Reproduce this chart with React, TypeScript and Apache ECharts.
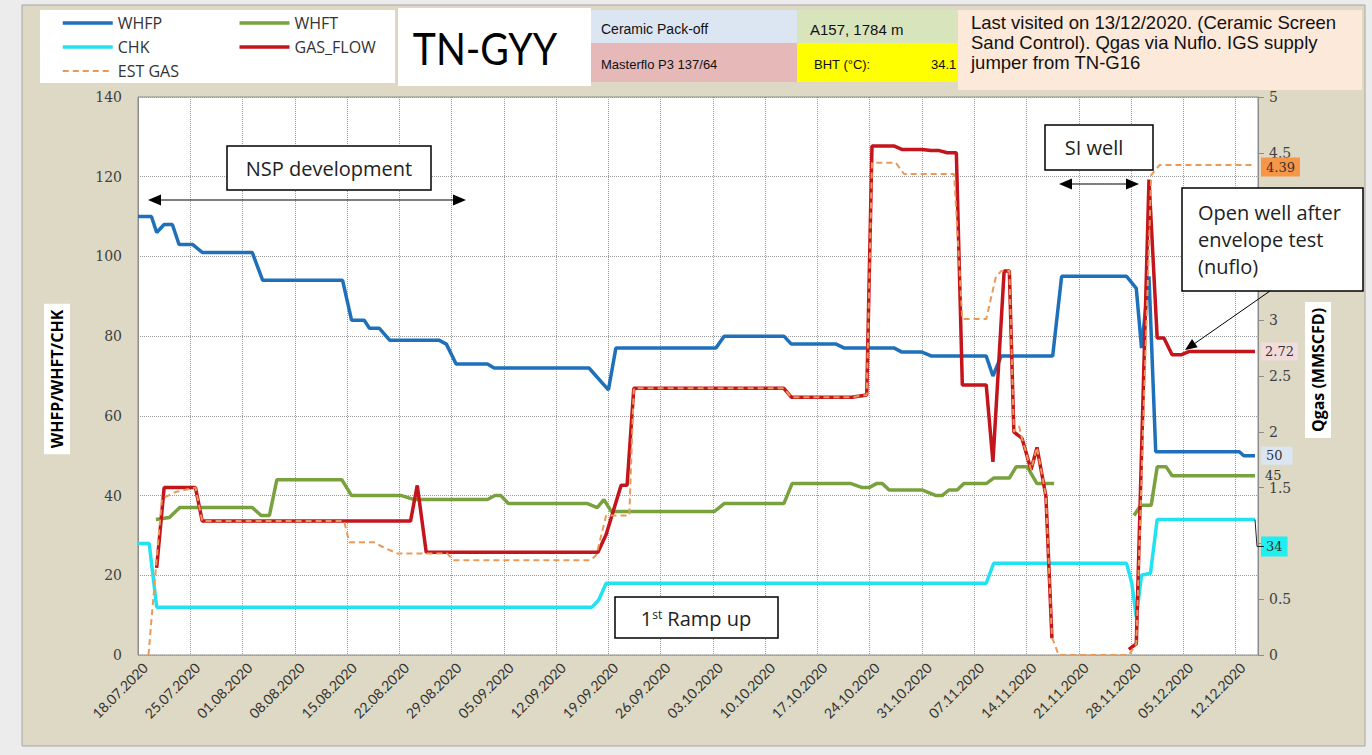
import React, { useEffect, useRef } from 'react';
import * as echarts from 'echarts';

// x values: day offset from 18.07.2020
const START_DATE = Date.UTC(2020, 6, 18);
const X_MAX = 150;
const X_TICK_DAYS = 7;

const leftTicks = { min: 0, max: 140, interval: 20 };
const rightTicks = { min: 0, max: 5, interval: 0.5 };

const seriesNames = ['WHFP', 'WHFT', 'CHK', 'GAS_FLOW', 'EST GAS'];

const whfp: any[] = [[0,110],[1.8,110],[2.5,106],[3.5,108],[4.6,108],[5.5,103],[7.3,103],[8.6,101],[15.3,101],[16.7,94],[27.4,94],[28.6,84],[30.3,84],[31,82],[32.3,82],[33.7,79],[40.3,79],[41.3,78],[42.6,73],[46.8,73],[47.7,72],[60.4,72],[63,66.5],[64,77],[77.4,77],[78.5,80],[86.5,80],[87.5,78],[93.5,78],[94.6,77],[101.3,77],[102.3,76],[105,76],[106.3,75],[113.6,75],[114.5,70],[115.6,75],[122.5,75],[123.7,95],[132.4,95],[133.7,92],[134.4,77],[135.4,95],[136.3,51],[147.5,51],[148.1,50],[149.6,50]];

const whft: any[] = [[2.4,34],[4.2,34.5],[5.6,37],[15.3,37],[16.5,35],[17.6,35],[18.6,44],[27.3,44],[28.6,40],[35.3,40],[37,39],[46.8,39],[47.8,40],[48.6,40],[49.6,38],[60.2,38],[61.5,37],[62.4,39],[63.4,36],[77.2,36],[78.5,38],[86.5,38],[87.6,43],[95.5,43],[97,42],[97.9,42],[98.9,43],[99.7,43],[100.6,41.4],[105,41.4],[106.9,40],[107.7,40],[108.6,41.4],[109.7,41.4],[110.6,43],[113.6,43],[114.6,44.4],[116.7,44.4],[117.6,47.2],[119.1,47.2],[120.4,43],[122.7,43],[128,'-'],[133.4,35],[134.3,37.6],[135.7,37.6],[136.5,47.2],[137.7,47.2],[138.5,45],[149.6,45]];

const chk: any[] = [[0,28],[1.5,28],[2.5,12],[60.8,12],[61.7,13.8],[62.7,18],[113.6,18],[114.6,23],[132.4,23],[133.1,18],[133.7,9.5],[134.4,20],[135.6,20.5],[136.5,34],[149.6,34]];

const gasFlow: any[] = [[2.5,0.78],[3.5,1.5],[7.7,1.5],[8.6,1.2],[36.5,1.2],[37.4,1.52],[38.6,0.92],[61.6,0.92],[62.7,1.08],[64.7,1.52],[65.5,1.52],[66.4,2.39],[86.5,2.39],[87.5,2.31],[95.6,2.31],[97.6,2.33],[98.3,4.56],[101.3,4.56],[102.3,4.53],[105,4.53],[106.2,4.52],[107.3,4.52],[108.4,4.5],[109.6,4.5],[110.4,2.42],[113.6,2.42],[114.5,1.73],[116,3.44],[116.7,3.44],[117.3,2.0],[118.4,1.94],[119.6,1.66],[120.4,1.86],[121.6,1.42],[122.4,0.15],[127,'-'],[132.7,0.05],[133.7,0.1],[135.4,4.26],[136.5,2.84],[137.4,2.84],[138.5,2.69],[139.7,2.69],[140.8,2.72],[149.6,2.72]];

const estGas: any[] = [[1.4,0],[3.2,1.4],[5,1.46],[7.7,1.5],[8.6,1.2],[27.6,1.2],[28.3,1.01],[31.6,1.01],[32.7,0.97],[34.7,0.91],[41.4,0.91],[42.2,0.85],[60.7,0.85],[61.4,0.9],[62.7,1.25],[65.8,1.25],[66.4,2.39],[86.5,2.39],[87.5,2.31],[95.6,2.31],[97.6,2.33],[98.3,4.41],[101.5,4.41],[102.6,4.31],[109.3,4.31],[110.4,3.01],[113.6,3.01],[114.9,3.39],[115.6,3.44],[116.7,3.44],[117.3,2.0],[118,2.05],[118.4,1.94],[119.6,1.66],[120.4,1.86],[121.6,1.42],[122.4,0.16],[123.3,0],[132.7,0],[133.7,0.1],[135.7,4.3],[136.8,4.39],[149.6,4.39]];

const SANS = "'Open Sans', 'DejaVu Sans', sans-serif";
const ARIAL = "'Liberation Sans', Arial, sans-serif";
const SERIF = "'DejaVu Serif', serif";

function fmtDate(v: number) {
  const d = new Date(START_DATE + Math.round(v) * 86400000);
  const dd = String(d.getUTCDate()).padStart(2, '0');
  const mm = String(d.getUTCMonth() + 1).padStart(2, '0');
  return `${dd}.${mm}.${d.getUTCFullYear()}`;
}

function endLabel(bg: string, offset: number[] = [0, 0], padding: number[] = [3, 4, 2, 4]) {
  return {
    show: true,
    formatter: (p: any) => String(p.value[1]),
    color: '#333',
    fontFamily: SERIF,
    fontSize: 13,
    backgroundColor: bg,
    padding,
    distance: 6,
    offset,
  };
}

function box(x: number, y: number, w: number, h: number, fill: string, stroke = 'none', lw = 0) {
  return { type: 'rect', z: 50, shape: { x, y, width: w, height: h }, style: { fill, stroke, lineWidth: lw } };
}
function txt(x: number, y: number, text: string, fontSize: number, fontFamily: string, extra: any = {}) {
  return {
    type: 'text', z: 60, x, y,
    style: { text, fontSize, fontFamily, fill: '#111', textAlign: 'left', textVerticalAlign: 'middle', ...extra },
  };
}
function arrowLine(x1: number, x2: number, y: number) {
  return [
    { type: 'line', z: 60, shape: { x1: x1 + 8, y1: y, x2: x2 - 8, y2: y }, style: { stroke: '#000', lineWidth: 1.2 } },
    { type: 'polygon', z: 60, shape: { points: [[x1, y], [x1 + 13, y - 5.5], [x1 + 13, y + 5.5]] }, style: { fill: '#000' } },
    { type: 'polygon', z: 60, shape: { points: [[x2, y], [x2 - 13, y - 5.5], [x2 - 13, y + 5.5]] }, style: { fill: '#000' } },
  ];
}

const graphics: any[] = [
  { type: 'rect', z: -10, shape: { x: 22, y: 5, width: 1343, height: 741 }, style: { fill: '#DDD9C4', stroke: '#A6A6A6', lineWidth: 1 } },
  // legend box
  { type: 'rect', z: -5, shape: { x: 40, y: 10, width: 355, height: 73 }, style: { fill: '#FFFFFF' } },
  // title
  box(397, 8, 194, 78, '#FFFFFF'),
  { type: 'line', z: 51, shape: { x1: 397.5, y1: 8, x2: 397.5, y2: 86 }, style: { stroke: '#F2C4D0', lineWidth: 1 } },
  { type: 'text', z: 60, x: 485, y: 48, scaleX: 0.89, style: { text: 'TN-GYY', fontSize: 44, fontFamily: "Lato, 'Open Sans', sans-serif", fill: '#000', textAlign: 'center', textVerticalAlign: 'middle' } },
  // info boxes
  box(591, 10, 206, 33, '#DCE5F2'),
  box(591, 43, 206, 39, '#E6B9B8'),
  box(797, 10, 161, 33, '#D8E4BC'),
  box(797, 43, 161, 39, '#FFFF00'),
  box(958, 10, 404, 80, '#FDE9D9'),
  txt(601, 29, 'Ceramic Pack-off', 14, ARIAL),
  txt(601, 64, 'Masterflo P3 137/64', 13, ARIAL),
  txt(810, 29, 'A157, 1784 m', 15, ARIAL),
  txt(814, 64, 'BHT (°C):', 13, ARIAL),
  txt(931, 64, '34.1', 13, ARIAL),
  { type: 'text', z: 60, x: 971, y: 12, style: { text: 'Last visited on 13/12/2020. (Ceramic Screen\nSand Control). Qgas via Nuflo. IGS supply\njumper from TN-G16', fontSize: 18.5, fontFamily: ARIAL, fill: '#111', lineHeight: 20, textAlign: 'left', textVerticalAlign: 'top' } },
  // axis names
  { type: 'text', z: 60, x: 57, y: 379, rotation: Math.PI / 2, style: { text: 'WHFP/WHFT/CHK', fontSize: 16, fontWeight: 'bold', fontFamily: SANS, fill: '#000', textAlign: 'center', textVerticalAlign: 'middle', backgroundColor: '#FFFFFF', padding: [5, 6, 5, 6] } },
  { type: 'text', z: 60, x: 1318, y: 370, rotation: Math.PI / 2, style: { text: 'Qgas (MMSCFD)', fontSize: 16, fontWeight: 'bold', fontFamily: SANS, fill: '#000', textAlign: 'center', textVerticalAlign: 'middle', backgroundColor: '#FFFFFF', padding: [5, 6, 5, 6] } },
  // NSP development
  box(227, 146, 204, 44, '#FFFFFF', '#000', 1.5),
  txt(329, 168, 'NSP development', 20, SANS, { textAlign: 'center', fill: '#222' }),
  ...arrowLine(148, 466, 200),
  // SI well
  box(1045, 125, 108, 45, '#FFFFFF', '#000', 1.5),
  txt(1094, 147, 'SI well', 20, SANS, { textAlign: 'center', fill: '#222' }),
  ...arrowLine(1059, 1139, 184),
  // Open well annotation
  box(1182, 188, 181, 103, '#FFFFFF', '#000', 1.5),
  { type: 'text', z: 60, x: 1198, y: 239, style: { text: 'Open well after\nenvelope test\n(nuflo)', fontSize: 20, fontFamily: SANS, fill: '#222', lineHeight: 27, textAlign: 'left', textVerticalAlign: 'middle' } },
  { type: 'line', z: 60, shape: { x1: 1270, y1: 291, x2: 1194, y2: 344 }, style: { stroke: '#000', lineWidth: 1 } },
  { type: 'polygon', z: 60, shape: { points: [[1185, 350], [1197.7, 347.3], [1192.0, 339.1]] }, style: { fill: '#000' } },
  // 1st ramp up
  box(615, 597, 163, 41, '#FFFFFF', '#000', 1.5),
  { type: 'text', z: 60, x: 696, y: 618, style: { text: '{n|1}{s|st}{n| Ramp up}', textAlign: 'center', textVerticalAlign: 'middle', rich: { n: { fontSize: 20, fontFamily: SANS, fill: '#222' }, s: { fontSize: 12, fontFamily: SANS, fill: '#222', verticalAlign: 'top' } } } },
];

const lineSeries = (name: string, data: any[], color: string, width: number, yAxisIndex: number, label: any, dashed = false) => ({
  name, type: 'line', data, yAxisIndex, symbol: 'none', showSymbol: false,
  connectNulls: false,
  lineStyle: { color, width, type: dashed ? [6, 4] : 'solid' },
  itemStyle: { color },
  endLabel: label,
  emphasis: { disabled: true },
});

const option: any = {
  animation: false,
  backgroundColor: 'transparent',
  legend: {
    data: seriesNames.map((n) => (n === 'EST GAS' ? { name: n, lineStyle: { width: 2 } } : { name: n })),
    left: 56, top: 7, width: 360,
    itemWidth: 50, itemHeight: 14, itemGap: 2,
    selectedMode: false,
    itemStyle: { opacity: 0 },
    lineStyle: { width: 3.5 },
    textStyle: { fontSize: 16, fontFamily: SANS, color: '#333', width: 118, height: 22, lineHeight: 22 },
  },
  grid: { left: 138, top: 97, width: 1120, height: 558, show: true, backgroundColor: '#FFFFFF', borderColor: '#8C8C8C', borderWidth: 1, containLabel: false },
  xAxis: {
    type: 'value', min: 0, max: X_MAX, interval: X_TICK_DAYS,
    axisLine: { show: false }, axisTick: { show: false },
    axisLabel: { rotate: 45, margin: 3, verticalAlign: 'top', lineHeight: 20, formatter: fmtDate, fontSize: 14, fontFamily: "Lato, 'Open Sans', sans-serif", color: '#333', showMaxLabel: false },
    splitLine: { show: true, lineStyle: { type: 'dotted', color: '#9A9A9A', width: 1 } },
  },
  yAxis: [
    {
      type: 'value', ...leftTicks, position: 'left',
      axisLine: { show: true, lineStyle: { color: '#8C8C8C' } }, axisTick: { show: false },
      axisLabel: { margin: 16, fontSize: 14, fontFamily: SERIF, color: '#404040' },
      splitLine: { show: true, lineStyle: { type: 'dotted', color: '#9A9A9A', width: 1 } },
    },
    {
      type: 'value', ...rightTicks, position: 'right',
      axisLine: { show: true, lineStyle: { color: '#8C8C8C' } },
      axisTick: { show: true, length: 6, lineStyle: { color: '#8C8C8C' } },
      axisLabel: { margin: 11, fontSize: 14, fontFamily: SERIF, color: '#404040' },
      splitLine: { show: false },
    },
  ],
  series: [
    lineSeries('WHFP', whfp, '#1E70BA', 3.5, 0, endLabel('#DCE6F2', [0, 0], [3, 10, 2, 5])),
    lineSeries('WHFT', whft, '#79A23F', 3.5, 0, endLabel('transparent', [0, 0], [0, 4, 0, 4])),
    lineSeries('CHK', chk, '#22E2F2', 3.5, 0, endLabel('#1EF0F0', [0, 27], [4, 5, 3, 5])),
    lineSeries('GAS_FLOW', gasFlow, '#C4141C', 3.5, 1, endLabel('#F2DCDB')),
    lineSeries('EST GAS', estGas, '#E99A58', 2, 1, endLabel('#F79646', [0, 2], [3, 5, 3, 5]), true),
  ],
  graphic: graphics,
};

export default function App() {
  const ref = useRef<HTMLDivElement>(null);
  useEffect(() => {
    const chart = echarts.init(ref.current!, null, { renderer: 'svg' });
    chart.setOption(option);
    const last = chk[chk.length - 1];
    const p = chart.convertToPixel({ xAxisIndex: 0, yAxisIndex: 0 } as any, [last[0], last[1]]) as number[];
    if (p) {
      chart.setOption({
        graphic: [
          { id: 'chkLeader', type: 'polyline', z: 40, shape: { points: [[p[0], p[1]], [p[0] + 2, p[1] + 27], [p[0] + 9, p[1] + 27]] }, style: { stroke: '#222', lineWidth: 1, fill: 'none' } },
        ],
      });
    }
    return () => chart.dispose();
  }, []);
  return (
    <div style={{ position: 'fixed', left: 0, top: 0, width: 1372, height: 755, background: '#ECECEC' }}>
      <div ref={ref} style={{ width: 1372, height: 755 }} />
    </div>
  );
}
